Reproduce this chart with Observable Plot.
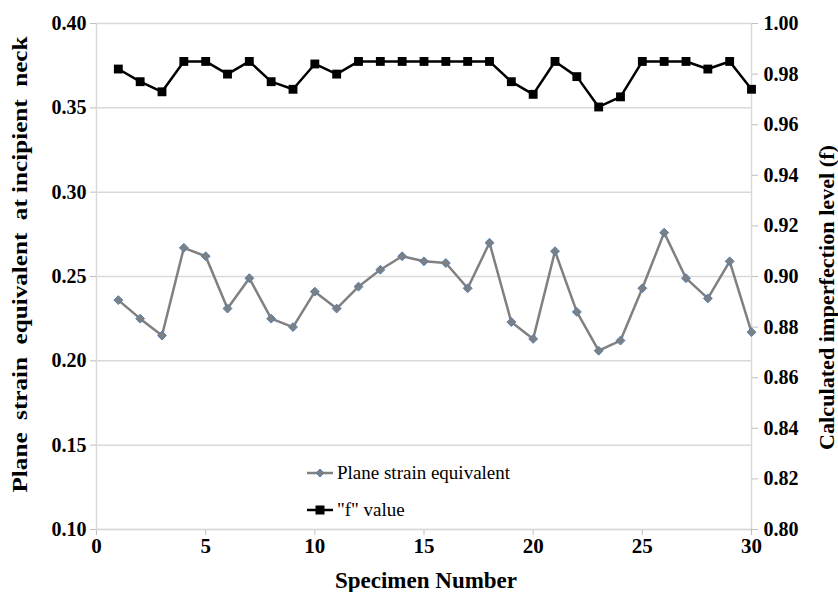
<!DOCTYPE html>
<html>
<head>
<meta charset="utf-8">
<script src="https://cdn.jsdelivr.net/npm/d3@7"></script>
<script src="https://cdn.jsdelivr.net/npm/@observablehq/plot@0.6"></script>
<style>
  html, body { margin: 0; padding: 0; background: #fff; }
  #wrap { position: relative; width: 838px; height: 592px; overflow: hidden; }
  #legend { position: absolute; left: 307px; top: 463px; font-family: "Liberation Serif", "Times New Roman", serif; font-size: 19px; color: #000; }
  #legend .row { display: flex; align-items: center; height: 20px; margin-bottom: 17px; }
  #legend svg { margin-right: 2px; }
</style>
</head>
<body>
<div id="wrap"></div>
<script>
// Specimen numbers
const specimens = d3.range(1, 31);
// Plane strain equivalent at incipient neck (left axis)
const planeStrain = [0.236, 0.225, 0.215, 0.267, 0.262, 0.231, 0.249, 0.225, 0.220, 0.241,
                     0.231, 0.244, 0.254, 0.262, 0.259, 0.258, 0.243, 0.270, 0.223, 0.213,
                     0.265, 0.229, 0.206, 0.212, 0.243, 0.276, 0.249, 0.237, 0.259, 0.217];
// "f" value: calculated imperfection level (right axis)
const fValue = [0.982, 0.977, 0.973, 0.985, 0.985, 0.980, 0.985, 0.977, 0.974, 0.984,
                0.980, 0.985, 0.985, 0.985, 0.985, 0.985, 0.985, 0.985, 0.977, 0.972,
                0.985, 0.979, 0.967, 0.971, 0.985, 0.985, 0.985, 0.982, 0.985, 0.974];
// Tick labels
const xTicks = [0, 5, 10, 15, 20, 25, 30];
const leftTicks = [0.10, 0.15, 0.20, 0.25, 0.30, 0.35, 0.40];
const rightTicks = [0.80, 0.82, 0.84, 0.86, 0.88, 0.90, 0.92, 0.94, 0.96, 0.98, 1.00];
// Titles
const leftTitle = "Plane  strain  equivalent  at incipient  neck";
const rightTitle = "Calculated imperfection level (f)";
const xTitle = "Specimen Number";

// map right-axis domain [0.80, 1.00] onto left-axis domain [0.10, 0.40]
const toLeft = v => 0.10 + (v - 0.80) * 1.5;
const fromLeft = v => 0.80 + (v - 0.10) / 1.5;

const strainData = specimens.map((s, i) => ({s, v: planeStrain[i]}));
const fData = specimens.map((s, i) => ({s, v: toLeft(fValue[i])}));

const font = "Liberation Serif, Times New Roman, serif";
const fmt = d3.format(".2f");

const chart = Plot.plot({
  width: 838,
  height: 592,
  marginLeft: 96,
  marginRight: 87,
  marginTop: 23,
  marginBottom: 63,
  style: {fontFamily: font, background: "#fff", overflow: "visible"},
  x: {domain: [0, 30]},
  y: {domain: [0.10, 0.40]},
  marks: [
    Plot.gridY(leftTicks, {stroke: "#d9d9d9", strokeOpacity: 1, strokeWidth: 1.5}),
    Plot.ruleX([0, 30], {stroke: "#d9d9d9", strokeWidth: 1.5}),
    Plot.axisY(leftTicks, {
      anchor: "left", tickFormat: fmt, tickSize: 6, tickPadding: 4,
      stroke: "#bfbfbf", fill: "#000", fontSize: 20, fontWeight: "bold", fontFamily: font, label: null
    }),
    Plot.axisY(rightTicks.map(toLeft), {
      anchor: "right", tickFormat: v => fmt(fromLeft(v)), tickSize: 6, tickPadding: 6,
      stroke: "#bfbfbf", fill: "#000", fontSize: 20, fontWeight: "bold", fontFamily: font, label: null
    }),
    Plot.axisX(xTicks, {
      anchor: "bottom", tickSize: 6, tickPadding: 3,
      stroke: "#bfbfbf", fill: "#000", fontSize: 21, fontWeight: "bold", fontFamily: font, label: null
    }),
    Plot.ruleY([0.10], {stroke: "#d9d9d9", strokeWidth: 1.5}),
    Plot.text([leftTitle], {frameAnchor: "left", rotate: -90, dx: -76, dy: -12, textAnchor: "middle", lineAnchor: "middle",
      fontSize: 21, fontWeight: "bold", fontFamily: font, fill: "#000"}),
    Plot.text([rightTitle], {frameAnchor: "right", rotate: -90, dx: 76, dy: 21, textAnchor: "middle", lineAnchor: "middle",
      fontSize: 21, fontWeight: "bold", fontFamily: font, fill: "#000"}),
    Plot.text([xTitle], {frameAnchor: "bottom", dx: 2, dy: 51, textAnchor: "middle", lineAnchor: "middle",
      fontSize: 23, fontWeight: "bold", fontFamily: font, fill: "#000"}),
    Plot.line(strainData, {x: "s", y: "v", stroke: "#808080", strokeWidth: 2.5}),
    Plot.dot(strainData, {x: "s", y: "v", symbol: "diamond2", r: 4, fill: "#7f7f7f", stroke: "#4f81bd", strokeWidth: 1}),
    Plot.line(fData, {x: "s", y: "v", stroke: "#000", strokeWidth: 2.5}),
    Plot.dot(fData, {x: "s", y: "v", symbol: "square", r: 5, fill: "#000", stroke: "none"})
  ]
});

// stretch the rotated titles to the lengths seen in the reference
const lengths = new Map([[leftTitle, 456], [rightTitle, 305]]);
chart.querySelectorAll("text").forEach(t => {
  const L = lengths.get(t.textContent);
  if (L) { t.setAttribute("textLength", L); t.setAttribute("lengthAdjust", "spacingAndGlyphs"); }
});

const wrap = document.getElementById("wrap");
wrap.appendChild(chart);

const legend = document.createElement("div");
legend.id = "legend";
legend.innerHTML = `
  <div class="row"><svg width="28" height="12"><line x1="0" y1="6" x2="26" y2="6" stroke="#808080" stroke-width="2.5"/><path d="M13,2 L17,6 L13,10 L9,6 Z" fill="#7f7f7f" stroke="#4f81bd" stroke-width="1"/></svg><span>Plane strain equivalent</span></div>
  <div class="row"><svg width="28" height="12"><line x1="0" y1="6" x2="26" y2="6" stroke="#000" stroke-width="2.5"/><rect x="8.5" y="1.5" width="9" height="9" fill="#000"/></svg><span>"f" value</span></div>`;
wrap.appendChild(legend);
</script>
</body>
</html>
